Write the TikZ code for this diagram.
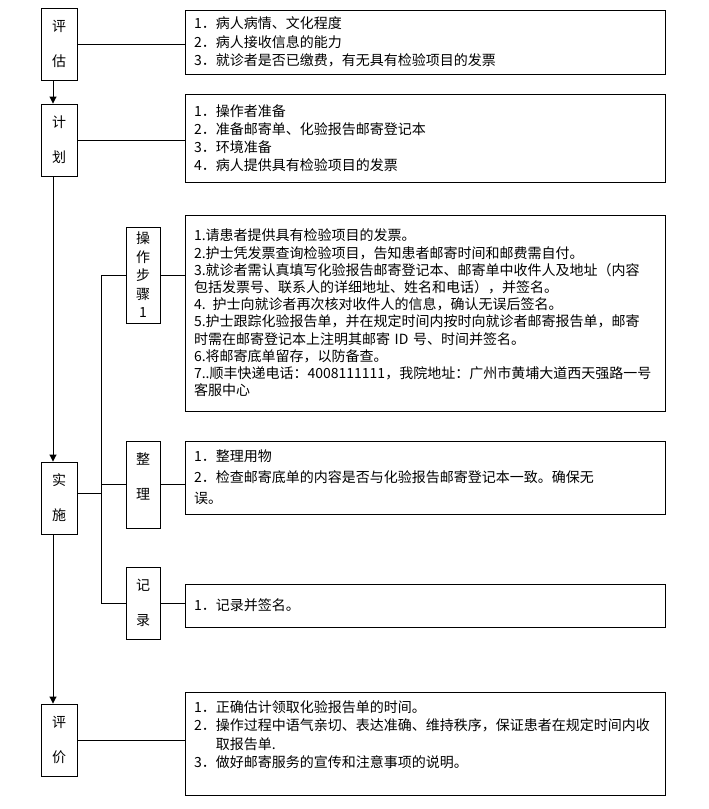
\documentclass[tikz,border=0pt]{standalone}
\usepackage{fontspec}
\setmainfont{Noto Sans CJK SC}
\usetikzlibrary{arrows.meta}

\tikzset{
	stage/.style={draw, line width=0.9pt, minimum width=36pt, minimum height=72pt, inner sep=0pt, align=center, font=\fontsize{14}{17.5}\selectfont},
	sub/.style={stage, minimum width=34pt},
	note/.style={draw, line width=0.9pt, text width=462pt, inner xsep=9pt, inner ysep=0pt, align=left, font=\fontsize{14}{18.5}\selectfont},
	link/.style={line width=0.9pt},
	arrow/.style={-{Triangle[length=7pt,width=7pt]}, line width=0.9pt}
}

\begin{document}
\begin{tikzpicture}[x=1pt,y=-1pt]
\useasboundingbox (0,0) rectangle (709,809);

% main steps
\node (pg) at (59,44) [stage] {评\\ \mbox{}\\估};
\node (jh) at (59,140) [stage] {计\\ \mbox{}\\划};
\node (ss) at (59,498) [stage] {实\\ \mbox{}\\施};
\node (pj) at (59,740) [stage] {评\\ \mbox{}\\价};

% sub steps
\node (czbz) at (143,275) [sub, minimum height=96pt, font=\fontsize{14}{18.5}\selectfont] {操\\作\\步\\骤\\1};
\node (zl) at (143,484.5) [sub, minimum height=87pt] {整\\ \mbox{}\\理\\ \mbox{}};
\node (jl) at (143,603) [sub] {记\\ \mbox{}\\录};

% contents
\node (b1) at (425,42) [note, minimum height=64pt] {1．病人病情、文化程度\\2．病人接收信息的能力\\3．就诊者是否已缴费，有无具有检验项目的发票};
\node (b2) at (425,138) [note, minimum height=88pt, font=\fontsize{14}{18}\selectfont] {1．操作者准备\\2．准备邮寄单、化验报告邮寄登记本\\3．环境准备\\4．病人提供具有检验项目的发票};
\node (b3) at (425,313) [note, minimum height=196pt, font=\fontsize{14}{17.2}\selectfont] {1.请患者提供具有检验项目的发票。\\2.护士凭发票查询检验项目，告知患者邮寄时间和邮费需自付。\\3.就诊者需认真填写化验报告邮寄登记本、邮寄单中收件人及地址（内容\\包括发票号、联系人的详细地址、姓名和电话），并签名。\\4. 护士向就诊者再次核对收件人的信息，确认无误后签名。\\5.护士跟踪化验报告单，并在规定时间内按时向就诊者邮寄报告单，邮寄\\时需在邮寄登记本上注明其邮寄 ID 号、时间并签名。\\6.将邮寄底单留存，以防备查。\\7..顺丰快递电话：4008111111，我院地址：广州市黄埔大道西天强路一号\\客服中心};
\node (b4) at (425,477.5) [note, minimum height=73pt, font=\fontsize{14}{21}\selectfont] {1．整理用物\\2．检查邮寄底单的内容是否与化验报告邮寄登记本一致。确保无\\误。};
\node (b5) at (425,605.5) [note, minimum height=43pt] {1．记录并签名。};
\node (b6) at (425,743.5) [note, minimum height=103pt] {1．正确估计领取化验报告单的时间。\\2．操作过程中语气亲切、表达准确、维持秩序，保证患者在规定时间内收\\\phantom{2．}取报告单.\\3．做好邮寄服务的宣传和注意事项的说明。\\ \mbox{}};

% flow down the left
\draw [arrow] ([xshift=-6pt]pg.south) -- ([xshift=-6pt]jh.north);
\draw [arrow] ([xshift=-6pt]jh.south) -- ([xshift=-6pt]ss.north);
\draw [arrow] ([xshift=-6pt]ss.south) -- ([xshift=-6pt]pj.north);

% links to contents
\draw [link] (pg.east) -- (pg.east -| b1.west);
\draw [link] (jh.east) -- (jh.east -| b2.west);
\draw [link] (pj.east) -- (pj.east -| b6.west);
\draw [link] (czbz.east) -- (czbz.east -| b3.west);
\draw [link] (zl.east) -- (zl.east -| b4.west);
\draw [link] (jl.east) -- (jl.east -| b5.west);

% branch of 实施
\coordinate (trunk) at (101,0);
\draw [link] (czbz.west) -- (czbz.west -| trunk) |- (jl.west);
\draw [link] (zl.west) -- (zl.west -| trunk);
\draw [link] ([yshift=5pt]ss.east) -- ([yshift=5pt]ss.east -| trunk);
\end{tikzpicture}
\end{document}
